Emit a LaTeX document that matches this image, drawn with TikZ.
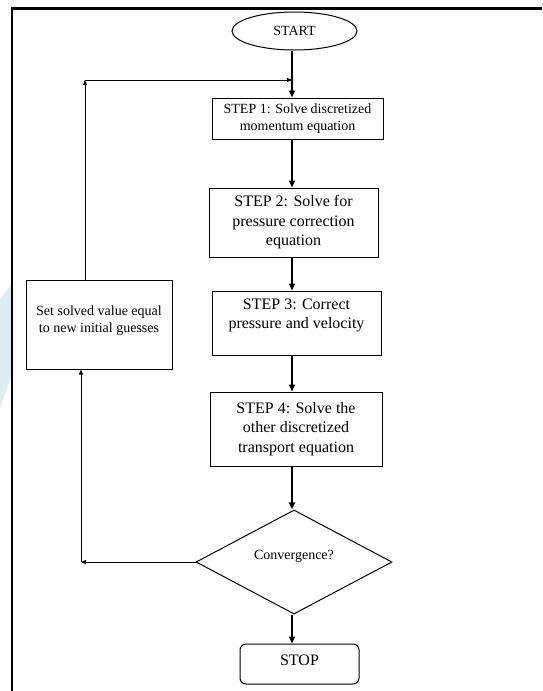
\documentclass[tikz,border=0pt]{standalone}
\usepackage{fontspec}
\setmainfont{Liberation Serif}
\usetikzlibrary{shapes.geometric,arrows.meta}

\def\smallsize{\fontsize{14}{16.5}\selectfont}
\def\largesize{\fontsize{16}{19.5}\selectfont}
\definecolor{wmark}{RGB}{221,235,243}

\begin{document}
\begin{tikzpicture}[x=1pt,y=-1pt,%
    stepbox/.style={draw,line width=1pt,fill=white,align=center,inner sep=2pt},%
    terminal/.style={stepbox,ellipse,inner sep=0pt},%
    decision/.style={stepbox,diamond,inner sep=0pt},%
    flow/.style={line width=2pt,-{Triangle[length=7pt,width=6pt]}},%
    back/.style={line width=1pt,-{Triangle[length=5pt,width=4pt]}}]%
  \useasboundingbox (0,0) rectangle (542,691);%
  % Watermark and frame
  \fill[wmark] (0,300) -- (13,281) -- (13,372) -- (0,408) -- cycle;%
  \draw[line width=2.5pt] (12,691) -- (12,8.5) -- (542,8.5);%
  % Nodes
  \node[terminal,minimum width=125pt,minimum height=38pt,font=\smallsize]%
    (start) at (294.5,31) {START};%
  \node[stepbox,minimum width=171pt,minimum height=41pt,font=\smallsize]%
    (s1) at (297.5,118.5) {STEP 1: Solve discretized\\momentum equation};%
  \node[stepbox,minimum width=169pt,minimum height=69pt,font=\largesize]%
    (s2) at (293.5,222.5) {STEP 2: Solve for\\pressure correction\\equation};%
  \node[stepbox,minimum width=169pt,minimum height=64pt,font=\largesize,%
    text depth=18.5pt] (s3) at (296.5,323) {STEP 3: Correct\\pressure and velocity};%
  \node[stepbox,minimum width=172pt,minimum height=74pt,font=\largesize]%
    (s4) at (296,429) {STEP 4: Solve the\\other discretized\\transport equation};%
  \node[decision,minimum width=196pt,minimum height=88pt,font=\smallsize,%
    text depth=15pt] (conv) at (294,562) {Convergence?};%
  \node[stepbox,rounded corners=6pt,minimum width=119pt,minimum height=40pt,%
    font=\largesize,text depth=8pt] (stop) at (299.5,664) {STOP};%
  \node[stepbox,minimum width=146pt,minimum height=89pt,font=\smallsize,%
    text depth=11pt] (set) at (99,324.5) {Set solved value equal\\to new initial guesses};%
  % Main flow along the spine
  \coordinate (spine) at (292,0);%
  \foreach \from/\to in {start/s1,s1/s2,s2/s3,s3/s4,s4/conv,conv/stop} {%
    \draw[flow] (spine |- \from.south) -- (spine |- \to.north);%
  }%
  % Feedback loop
  \coordinate (up) at (85,80);%
  \coordinate (low) at (81,562);%
  \draw[back] (conv.west) -- (low);%
  \draw[back] (low) -- (low |- set.south);%
  \draw[back] (up |- set.north) -- (up);%
  \draw[back] (up) -- (spine |- up);%
\end{tikzpicture}
\end{document}
